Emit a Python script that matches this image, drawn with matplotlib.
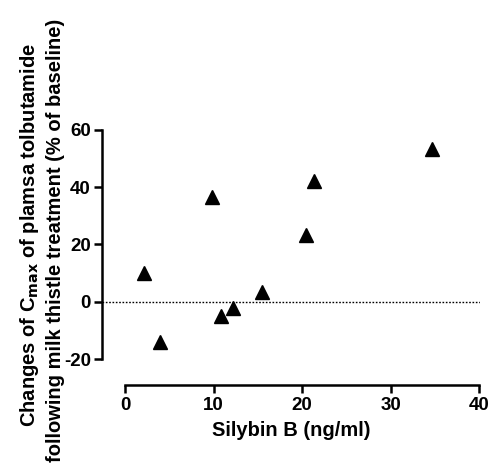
import matplotlib.pyplot as plt
import numpy as np

plt.rcParams['font.family'] = ['Liberation Sans', 'DejaVu Sans']
plt.rcParams['font.weight'] = 'bold'

# Silybin B concentration vs change in Cmax
silybin = [2.1, 3.9, 9.8, 10.8, 12.2, 15.5, 20.4, 21.3, 34.7]
cmax_change = [10.2, -14.1, 36.6, -5.1, -2.2, 3.5, 23.2, 42.3, 53.2]
xticks = [0, 10, 20, 30, 40]
yticks = [-20, 0, 20, 40, 60]

fig = plt.figure(figsize=(4.9, 4.74), dpi=100)
ax = fig.add_axes([0.208, 0.188, 0.772, 0.538])

ax.plot(silybin, cmax_change, "k^", markersize=10, clip_on=False, zorder=3)
ax.axhline(0, color="black", linestyle=(0, (1.2, 1.2)), linewidth=1.0, zorder=1)

ax.set_xlim(-2.6, 40.1)
ax.set_ylim(-29, 60)
ax.set_xticks(xticks)
ax.set_xticklabels([str(v) for v in xticks])
ax.set_yticks(yticks)
ax.set_yticklabels([str(v) for v in yticks])

for s in ["top", "right"]:
  ax.spines[s].set_visible(False)
ax.spines["left"].set_bounds(-20, 60)
ax.spines["bottom"].set_bounds(0, 40)
for s in ["left", "bottom"]:
  ax.spines[s].set_linewidth(1.8)

ax.tick_params(direction="out", length=6, width=1.8, labelsize=13.5, pad=2)
ax.tick_params(axis="x", pad=3)
for lbl in ax.get_xticklabels() + ax.get_yticklabels():
  lbl.set_fontweight("bold")

ax.set_xlabel("Silybin B (ng/ml)", fontsize=14.5, fontweight="bold", labelpad=5)

fig.text(0.061, 0.505, "Changes of C$_{\\mathbf{max}}$ of plamsa tolbutamide",
         rotation=90, ha="center", va="center", fontsize=14.5, fontweight="bold")
fig.text(0.114, 0.492, "following milk thistle treatment (% of baseline)",
         rotation=90, ha="center", va="center", fontsize=14.5, fontweight="bold")

fig.savefig("out.png", dpi=100)
